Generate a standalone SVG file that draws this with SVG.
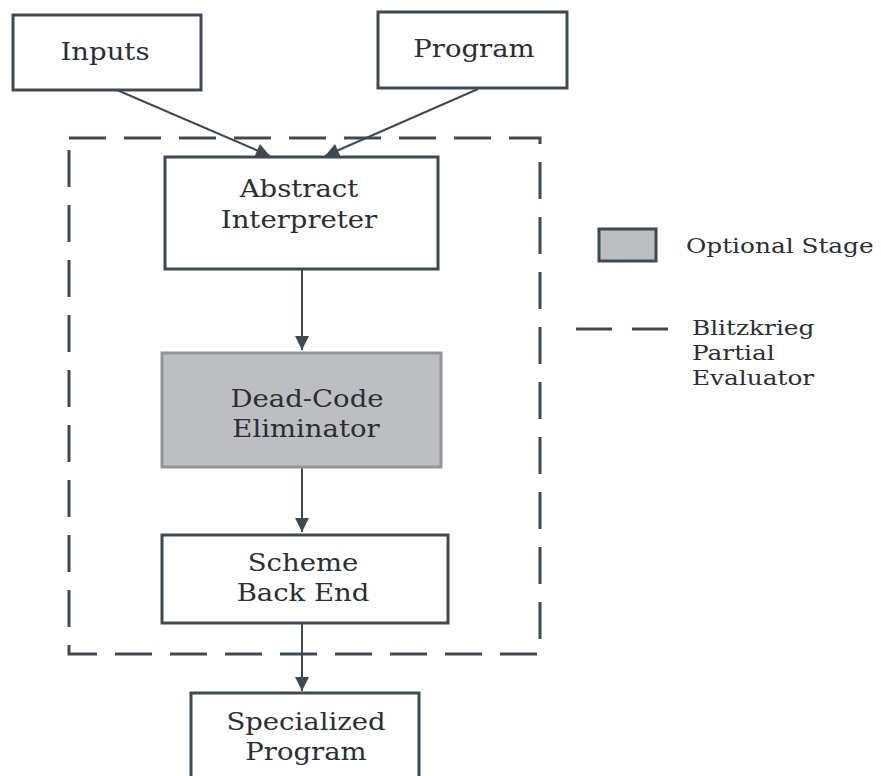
<svg xmlns="http://www.w3.org/2000/svg" width="881" height="776" viewBox="0 0 881 776">
<defs>
<style>
.box{fill:#ffffff;stroke:#3e4a52;stroke-width:3}
.opt{fill:#bdbec2;stroke:#939497;stroke-width:3}
.lbl{font-family:"DejaVu Serif","Liberation Serif",serif;font-size:25px;fill:#2a2f33;text-anchor:middle}
.leg{font-family:"DejaVu Serif","Liberation Serif",serif;font-size:21px;fill:#2a2f33}
.conn{stroke:#3e4a52;stroke-width:2;fill:none;marker-end:url(#ah)}
.dash{fill:none;stroke:#3e4a52;stroke-width:3;stroke-dasharray:37 18}
</style>
<marker id="ah" markerUnits="userSpaceOnUse" markerWidth="16" markerHeight="16" viewBox="0 0 16 16" refX="15" refY="8" orient="auto">
<path d="M1,1 L15,8 L1,15 Z" fill="#3e4a52"/>
</marker>
</defs>
<rect width="881" height="776" fill="#ffffff"/>
<g id="boundary">
<rect class="dash" x="69" y="138" width="471" height="516"/>
</g>
<g id="connectors">
<line class="conn" x1="110" y1="87" x2="270" y2="156"/>
<line class="conn" x1="478" y1="89" x2="325" y2="156"/>
<line class="conn" x1="302" y1="269" x2="302" y2="350"/>
<line class="conn" x1="302" y1="467" x2="302" y2="532"/>
<line class="conn" x1="302" y1="623" x2="302" y2="691"/>
</g>
<g id="inputs">
<rect class="box" x="13" y="15" width="188" height="75"/>
<text class="lbl" transform="translate(105,60) scale(1.1,1)">Inputs</text>
</g>
<g id="program">
<rect class="box" x="378" y="12" width="189" height="76"/>
<text class="lbl" transform="translate(474,57) scale(1.1,1)">Program</text>
</g>
<g id="abstract-interpreter">
<rect class="box" x="165" y="157" width="273" height="112"/>
<text class="lbl" transform="translate(299,197) scale(1.1,1)">Abstract</text>
<text class="lbl" transform="translate(299,228) scale(1.1,1)">Interpreter</text>
</g>
<g id="dead-code-eliminator">
<rect class="opt" x="162" y="353" width="279" height="114"/>
<text class="lbl" transform="translate(307,407) scale(1.1,1)">Dead-Code</text>
<text class="lbl" transform="translate(306,437) scale(1.1,1)">Eliminator</text>
</g>
<g id="scheme-back-end">
<rect class="box" x="162" y="535" width="286" height="88"/>
<text class="lbl" transform="translate(303,571) scale(1.1,1)">Scheme</text>
<text class="lbl" transform="translate(303,601) scale(1.1,1)">Back End</text>
</g>
<g id="specialized-program">
<rect class="box" x="191" y="693" width="228" height="100"/>
<text class="lbl" transform="translate(306,730) scale(1.1,1)">Specialized</text>
<text class="lbl" transform="translate(306,760) scale(1.1,1)">Program</text>
</g>
<g id="legend">
<rect x="599" y="229" width="57" height="32" fill="#bdbec2" stroke="#3e4a52" stroke-width="3"/>
<text class="leg" transform="translate(686,253) scale(1.18,1)">Optional Stage</text>
<line x1="576" y1="329" x2="668" y2="329" stroke="#3e4a52" stroke-width="3" stroke-dasharray="36 20"/>
<text class="leg" transform="translate(692,335) scale(1.18,1)">Blitzkrieg</text>
<text class="leg" transform="translate(692,360) scale(1.18,1)">Partial</text>
<text class="leg" transform="translate(692,385) scale(1.18,1)">Evaluator</text>
</g>
</svg>
